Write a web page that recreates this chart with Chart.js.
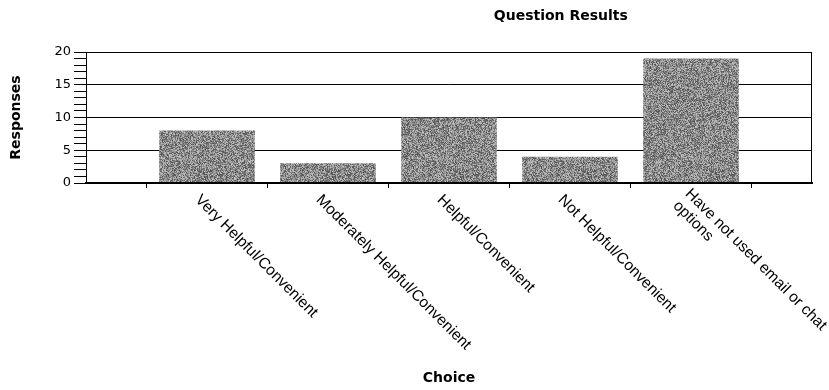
<!DOCTYPE html>
<html>
<head>
<meta charset="utf-8">
<script src="https://cdn.jsdelivr.net/npm/chart.js@4/dist/chart.umd.min.js"></script>
<style>
  html, body { margin: 0; padding: 0; background: #ffffff; }
  #c { display: block; }
</style>
</head>
<body>
<canvas id="c" width="829" height="390"></canvas>
<script>
const chartTitle = 'Question Results';
const xAxisTitle = 'Choice';
const yAxisTitle = 'Responses';
const categories = [
  'Very Helpful/Convenient',
  'Moderately Helpful/Convenient',
  'Helpful/Convenient',
  'Not Helpful/Convenient',
  ['Have not used email or chat', 'options']
];
const responses = [8, 3, 10, 4, 19];
const yLabelledTicks = [0, 5, 10, 15, 20];

// Empty slots on both ends give the half-slot margin around the bars.
const slotLabels = [''].concat(categories, ['']);
const slotValues = [null].concat(responses, [null]);

// Grainy gray fill for the bars (deterministic hash noise).
function grainPattern() {
  const size = 128;
  const cv = document.createElement('canvas');
  cv.width = size; cv.height = size;
  const g = cv.getContext('2d');
  const img = g.createImageData(size, size);
  for (let y = 0; y < size; y++) {
    for (let x = 0; x < size; x++) {
      let n = Math.imul(x, 374761393) + Math.imul(y, 668265263);
      n = Math.imul(n ^ (n >>> 13), 1274126177);
      n = (n ^ (n >>> 16)) >>> 0;
      const t = n / 4294967295;
      const v = Math.round(78 + t * 118);
      const k = (y * size + x) * 4;
      img.data[k] = v; img.data[k + 1] = v; img.data[k + 2] = v; img.data[k + 3] = 255;
    }
  }
  g.putImageData(img, 0, 0);
  return g.createPattern(cv, 'repeat');
}

const framePlugin = {
  id: 'plotFrame',
  afterDatasetsDraw(chart) {
    const { ctx, chartArea: a } = chart;
    ctx.save();
    ctx.strokeStyle = '#000';
    ctx.lineWidth = 1;
    ctx.strokeRect(Math.round(a.left) + 0.5, Math.round(a.top) + 0.5,
                   Math.round(a.right - a.left) - 1, Math.round(a.bottom - a.top) - 1);
    ctx.restore();
  }
};

const headingPlugin = {
  id: 'heading',
  afterDraw(chart) {
    const { ctx, chartArea: a } = chart;
    ctx.save();
    ctx.fillStyle = '#000';
    ctx.font = 'bold 14px "DejaVu Sans"';
    ctx.textAlign = 'center';
    ctx.textBaseline = 'middle';
    ctx.fillText(chartTitle, a.left + (a.right - a.left) * 0.654, 16);
    ctx.restore();
  }
};

// Category names run diagonally down-right from each bar.
const slantLabelsPlugin = {
  id: 'slantLabels',
  afterDraw(chart) {
    const { ctx, chartArea: a, scales: { x } } = chart;
    ctx.save();
    ctx.fillStyle = '#000';
    ctx.font = '15.5px "Liberation Sans"';
    ctx.textAlign = 'left';
    ctx.textBaseline = 'top';
    const lh = 17;
    categories.forEach((lab, i) => {
      const lines = Array.isArray(lab) ? lab : [lab];
      const px = x.getPixelForValue(i + 1);
      ctx.save();
      ctx.translate(px - 4, a.bottom + 9);
      ctx.rotate(Math.PI / 4);
      const shift = -(lines.length - 1) * lh * 0.5;
      lines.forEach((t, j) => ctx.fillText(t, 0, shift + j * lh));
      ctx.restore();
    });
    ctx.restore();
  }
};

new Chart(document.getElementById('c'), {
  type: 'bar',
  data: {
    labels: slotLabels,
    datasets: [{
      data: slotValues,
      backgroundColor: grainPattern(),
      borderWidth: 0,
      categoryPercentage: 1,
      barPercentage: 0.79
    }]
  },
  options: {
    responsive: false,
    animation: false,
    layout: { padding: { top: 52, right: 17, left: 0, bottom: 0 } },
    plugins: {
      legend: { display: false },
      tooltip: { enabled: false },
      title: { display: false }
    },
    scales: {
      x: {
        type: 'category',
        offset: false,
        grid: {
          display: true,
          drawOnChartArea: false,
          offset: true,
          drawTicks: true,
          tickLength: 5,
          tickColor: '#000',
          color: '#000'
        },
        border: { display: true, color: '#000', width: 2 },
        ticks: { display: false },
        title: {
          display: true,
          text: xAxisTitle,
          color: '#000',
          font: { family: 'DejaVu Sans', size: 14, weight: 'bold' },
          padding: { top: 0, bottom: 3 }
        },
        afterFit(scale) { scale.height = 207; }
      },
      y: {
        min: 0,
        max: 20,
        ticks: {
          stepSize: 1,
          autoSkip: false,
          color: '#000',
          padding: 3,
          font: { family: 'DejaVu Sans', size: 13 },
          callback: (v) => (yLabelledTicks.includes(v) ? String(v) : '')
        },
        grid: {
          color: (c) => (c.tick && yLabelledTicks.includes(c.tick.value) ? '#000' : 'rgba(0,0,0,0)'),
          tickColor: '#000',
          tickLength: 12,
          lineWidth: 1
        },
        border: { display: true, color: '#000', width: 1 },
        title: {
          display: true,
          text: yAxisTitle,
          color: '#000',
          font: { family: 'DejaVu Sans', size: 14, weight: 'bold' },
          padding: { top: 8, bottom: 0 }
        },
        afterFit(scale) { scale.width = 86; }
      }
    }
  },
  plugins: [framePlugin, headingPlugin, slantLabelsPlugin]
});
</script>
</body>
</html>
